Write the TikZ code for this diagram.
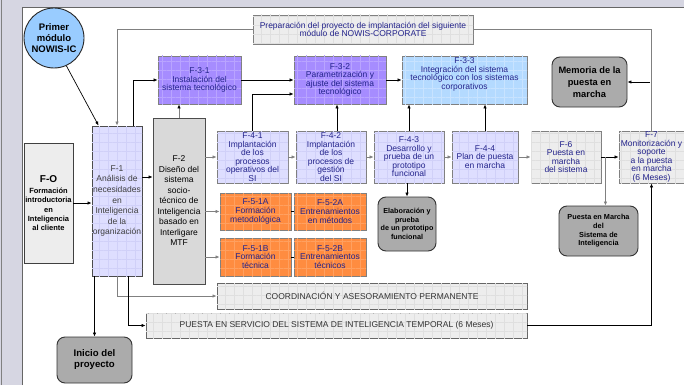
\documentclass[tikz,border=0pt]{standalone}
\usepackage{fontspec}
\setmainfont{Liberation Sans}
\usetikzlibrary{arrows.meta,patterns.meta}

\definecolor{fondo}{HTML}{D6D6E2}
\definecolor{texto}{HTML}{24248C}
\definecolor{lila}{HTML}{A68CFF}
\definecolor{rejalila}{HTML}{B9A4FF}
\definecolor{lilaclaro}{HTML}{DEDEFF}
\definecolor{rejalilaclaro}{HTML}{D0D0F8}
\definecolor{celeste}{HTML}{B4DAFF}
\definecolor{rejaceleste}{HTML}{C8E3FF}
\definecolor{naranja}{HTML}{FF8C40}
\definecolor{rejanaranja}{HTML}{FFA060}
\definecolor{grisclaro}{HTML}{EDEDED}
\definecolor{rejagris}{HTML}{DFDFDF}
\definecolor{grismedio}{HTML}{D9D9D9}
\definecolor{grisoscuro}{HTML}{ABABAB}
\definecolor{circulo}{HTML}{99CCFF}

\tikzset{
  fase/.style={draw=gray, line width=0.9pt, align=center, inner sep=0pt, text=texto,
    font=\fontsize{8.5}{8.5}\selectfont},
  rejilla/.style={postaction={pattern={Hatch[angle=0,distance=9pt,line width=0.35pt]}, pattern color=#1}},
  hito/.style={draw=black!80, line width=0.9pt, rounded corners=8pt, fill=grisoscuro, align=center,
    inner sep=0pt, font=\bfseries\fontsize{7.3}{8.6}\selectfont},
  flecha/.style={-{Latex[length=4pt,width=3.4pt]}, line width=0.7pt},
  flechagris/.style={flecha, draw=gray},
  flechamixta/.style={-{Latex[length=4pt,width=3.4pt,color=black]}, line width=0.7pt, draw=gray},
}

\begin{document}
\begin{tikzpicture}[x=1pt,y=-1pt]
\useasboundingbox (0,0) rectangle (684,385);
% fondo de la diapositiva
\fill[fondo] (0,0) rectangle (684,385);
\fill[white] (22,8) rectangle (684,385);
\draw[gray!80!black, line width=1pt] (22,385) -- (22,8) -- (684,8);
\draw[gray, line width=1pt] (1,385) -- (1,0);

% fases
\node[circle, draw=black!85, line width=0.9pt, fill=circulo, minimum size=60pt, inner sep=0pt, align=center,
  font=\bfseries\fontsize{9.5}{10.7}\selectfont] (modulo) at (54,38) {Primer\\módulo\\NOWIS-IC};
\node[fase, fill=grisclaro, draw=black!75, text=black, minimum width=49pt, minimum height=120pt,
  font=\bfseries\fontsize{7.5}{9.2}\selectfont] (f0) at (48.5,203)
  {{\fontsize{10}{12}\selectfont F-O}\\[2pt]Formación\\introductoria\\en\\Inteligencia\\al cliente};
\node[fase, fill=lilaclaro, rejilla=rejalilaclaro, draw=black!70, text=black!75, minimum width=50pt,
  minimum height=150pt, font=\fontsize{8.5}{10.6}\selectfont] (f1) at (117,201)
  {F-1\\Análisis de\\necesidades\\en\\Inteligencia\\de la\\organización};
\node[fase, fill=grismedio, draw=black!70, text=black, minimum width=52pt, minimum height=166pt,
  font=\fontsize{8.5}{10.5}\selectfont] (f2) at (179,201)
  {F-2\\Diseño del\\sistema\\socio-\\técnico de\\Inteligencia\\basado en\\Interligare\\MTF};

\node[fase, fill=lila, rejilla=rejalila, minimum width=83pt, minimum height=48pt] (f31) at (199.5,80)
  {F-3-1\\Instalación del\\sistema tecnológico};
\node[fase, fill=lila, rejilla=rejalila, minimum width=92pt, minimum height=48pt] (f32) at (340,80)
  {F-3-2\\Parametrización y\\ajuste del sistema\\tecnológico};
\node[fase, fill=celeste, rejilla=rejaceleste, minimum width=125pt, minimum height=48pt] (f33) at (464.5,80)
  {F-3-3\\Integración del sistema\\tecnológico con los sistemas\\corporativos\\[4pt]};
\node[fase, fill=grisclaro, rejilla=rejagris, minimum width=220pt, minimum height=29pt] (prep) at (363,29.5)
  {Preparación del proyecto de implantación del siguiente\\módulo de NOWIS-CORPORATE};
\node[hito, minimum width=75pt, minimum height=50pt, font=\bfseries\fontsize{9.3}{11.7}\selectfont] (mem)
  at (589.5,82) {Memoria de la\\puesta en\\marcha};

\node[fase, fill=lilaclaro, rejilla=rejalilaclaro, minimum width=71pt, minimum height=52pt] (f41) at (252.5,157)
  {F-4-1\\Implantación\\de los\\procesos\\operativos del\\SI};
\node[fase, fill=lilaclaro, rejilla=rejalilaclaro, minimum width=70pt, minimum height=52pt] (f42) at (331,157)
  {F-4-2\\Implantación\\de los\\procesos de\\gestión\\del SI};
\node[fase, fill=lilaclaro, rejilla=rejalilaclaro, minimum width=70pt, minimum height=52pt] (f43) at (409,157)
  {F-4-3\\Desarrollo y\\prueba de un\\prototipo\\funcional};
\node[fase, fill=lilaclaro, rejilla=rejalilaclaro, minimum width=66pt, minimum height=52pt] (f44) at (485,157)
  {F-4-4\\Plan de puesta\\en marcha};
\node[fase, fill=grisclaro, rejilla=rejagris, minimum width=70pt, minimum height=52pt] (f6) at (566,157)
  {F-6\\Puesta en\\marcha\\del sistema};
\node[fase, fill=grisclaro, rejilla=rejagris, minimum width=65pt, minimum height=52pt] (f7) at (651.5,157)
  {F-7\\Monitorización y\\soporte\\a la puesta\\en marcha\\(6 Meses)};

\node[hito, minimum width=58pt, minimum height=54pt, font=\bfseries\fontsize{7.2}{8.7}\selectfont] (elab)
  at (407,224) {Elaboración y\\prueba\\de un prototipo\\funcional};
\node[hito, minimum width=79pt, minimum height=50pt] (pmar) at (598.5,231)
  {Puesta en Marcha\\del\\Sistema de\\Inteligencia};

\node[fase, fill=naranja, rejilla=rejanaranja, minimum width=71pt, minimum height=37pt,
  font=\fontsize{8.5}{8.8}\selectfont] (f51a) at (255.5,211.5) {F-5-1A\\Formación\\metodológica};
\node[fase, fill=naranja, rejilla=rejanaranja, minimum width=72pt, minimum height=37pt,
  font=\fontsize{8.5}{8.8}\selectfont] (f52a) at (330,211.5) {F-5-2A\\Entrenamientos\\en métodos};
\node[fase, fill=naranja, rejilla=rejanaranja, minimum width=71pt, minimum height=38pt,
  font=\fontsize{8.5}{8.8}\selectfont] (f51b) at (255.5,257) {F-5-1B\\Formación\\técnica};
\node[fase, fill=naranja, rejilla=rejanaranja, minimum width=72pt, minimum height=38pt,
  font=\fontsize{8.5}{8.8}\selectfont] (f52b) at (330,257) {F-5-2B\\Entrenamientos\\técnicos};

\node[fase, fill=grisclaro, rejilla=rejagris, draw=gray!80!black, text=black!80, minimum width=310pt,
  minimum height=26pt] (coord) at (372,296) {COORDINACIÓN Y ASESORAMIENTO PERMANENTE};
\node[fase, fill=grisclaro, rejilla=rejagris, draw=gray!80!black, text=black!80, minimum width=381pt,
  minimum height=25pt] (puesta) at (336.5,325.5)
  {PUESTA EN SERVICIO DEL SISTEMA DE INTELIGENCIA TEMPORAL (6 Meses)};
\node[hito, minimum width=75pt, minimum height=46pt, font=\bfseries\fontsize{9.6}{11}\selectfont] (inicio)
  at (94.5,360) {Inicio del\\proyecto};

% conectores
\draw[flecha] (modulo.-66) -- ([xshift=7pt]f1.north west);
\draw[flecha] (f0.east) -- (f0.east -| f1.west);
\draw[flecha] ([yshift=24pt]f1.east) -- ([yshift=24pt]f1.east -| f2.west);
\draw[flecha] ([xshift=16pt]f1.north) |- (f31.west);
\draw[flechagris] (prep.west) -| (f1.north);
\draw[gray, line width=0.7pt] (prep.east) -| (f7.north);
\draw[flecha] ([xshift=-1.5pt]f7.north |- mem.east) -- (mem.east);
\draw[flechamixta] (f2.north) -- (f2.north |- f31.south);
\draw[flecha] (f31) -- (f32);
\draw[flecha] (f32) -- (f33);
\draw[flecha] (f41.north) |- ([yshift=-14pt]f32.west);
\draw[flecha] ([xshift=6pt]f42.north) -- ([xshift=6pt]f42.north |- f32.south);
\draw[flecha] (f43.north) -- (f43.north |- f33.south);
\draw[flecha] (f44.north) -- (f44.north |- f33.south);
\draw[flechagris] (f2.east |- f41.west) -- (f41.west);
\draw[flechagris] (f41) -- (f42);
\draw[flechagris] (f42) -- (f43);
\draw[flechagris] (f43) -- (f44);
\draw[flechagris] (f44) -- (f6);
\draw[flecha] (f6) -- (f7);
\coordinate (rama) at ([xshift=4pt]f6.east);
\draw[flechagris] (rama) -- (rama |- pmar.north);
\draw[flecha] (elab.north |- f43.south) -- (elab.north);
\draw[flechagris] (f2.east |- f51a.west) -- (f51a.west);
\draw[flechagris] (f2.east |- f51b.west) -- (f51b.west);
\draw[line width=0.7pt] (f51a) -- (f52a);
\draw[line width=0.7pt] (f51b) -- (f52b);
\draw[flecha] (inicio.north |- f1.south) -- (inicio.north);
\draw[flechagris] (f1.south) |- (coord.west);
\draw[flecha] ([xshift=11pt]f1.south) |- (puesta.west);
\draw[flecha] (puesta.east) -| (f7.south);
\end{tikzpicture}
\end{document}
